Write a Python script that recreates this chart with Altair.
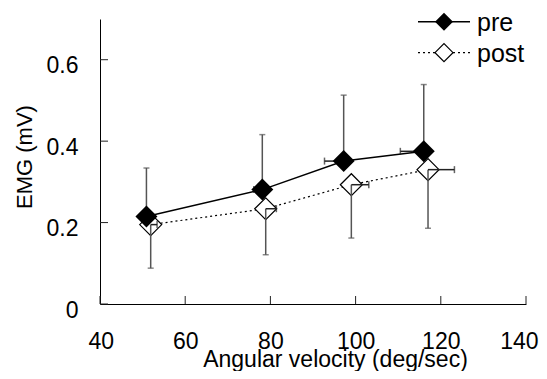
import altair as alt
import pandas as pd

# ---- data ----
series = ["pre", "post"]
velocity_pre = [50.9, 78.1, 97.2, 116.0]
emg_pre = [0.215, 0.281, 0.351, 0.375]
emg_pre_sd = [0.119, 0.135, 0.162, 0.164]      # drawn upward
vel_pre_sd = [1.5, 2.0, 4.5, 5.5]               # drawn leftward

velocity_post = [51.9, 78.9, 99.0, 117.0]
emg_post = [0.195, 0.234, 0.293, 0.330]
emg_post_sd = [0.107, 0.113, 0.131, 0.144]     # drawn downward
vel_post_sd = [1.5, 2.5, 4.1, 6.2]              # drawn rightward

x_ticks = [40, 60, 80, 100, 120, 140]
y_ticks = [0, 0.2, 0.4, 0.6]
x_title = "Angular velocity (deg/sec)"
y_title = "EMG (mV)"

pre = pd.DataFrame({
    "v": velocity_pre, "emg": emg_pre,
    "emg_end": [m + s for m, s in zip(emg_pre, emg_pre_sd)],
    "v_end": [v - s for v, s in zip(velocity_pre, vel_pre_sd)],
})
post = pd.DataFrame({
    "v": velocity_post, "emg": emg_post,
    "emg_end": [m - s for m, s in zip(emg_post, emg_post_sd)],
    "v_end": [v + s for v, s in zip(velocity_post, vel_post_sd)],
})

W, H = 426, 285
FONT = "Liberation Sans, Arial, sans-serif"

xscale = alt.Scale(domain=[40, 140], nice=False, zero=False)
yscale = alt.Scale(domain=[0, 0.7], nice=False)

x_axis = alt.Axis(values=x_ticks, labelPadding=44, labelBaseline="alphabetic",
                  labelFlush=True, labelFlushOffset=12, labelFontSize=23,
                  titleX=235, titleY=62, titleBaseline="alphabetic", titleAlign="center",
                  titleFontSize=23, titleColor="black", titleFont=FONT)
y_axis = alt.Axis(values=y_ticks, labelPadding=22, labelBaseline="alphabetic", labelOffset=13,
                  labelFontSize=23, labelFlush=False,
                  labelExpr="datum.value == 0 ? '0' : format(datum.value, '.1f')")

Xn = lambda f: alt.X(f, scale=xscale, title=x_title, axis=x_axis)
Yn = lambda f: alt.Y(f, scale=yscale, title=None, axis=y_axis)

base_pre = alt.Chart(pre)
base_post = alt.Chart(post)

# inward tick marks
xt = alt.Chart(pd.DataFrame({"v": x_ticks})).mark_rule(color="#222", strokeWidth=1).encode(
    x=Xn("v:Q"), y=alt.value(H), y2=alt.value(H - 8))
yt = alt.Chart(pd.DataFrame({"emg": y_ticks})).mark_rule(color="#222", strokeWidth=1).encode(
    y=Yn("emg:Q"), x=alt.value(0), x2=alt.value(8))

def series_layers(base, filled, vcolor="#555", hcolor="#222"):
    pts = (base.mark_point(shape="diamond", size=484, filled=True, color="black", opacity=1)
           if filled else
           base.mark_point(shape="diamond", size=484, fill="white", stroke="black",
                           strokeWidth=1.2, opacity=1, fillOpacity=1))
    vbar = base.mark_rule(color=vcolor, strokeWidth=1.5).encode(x=Xn("v:Q"), y=Yn("emg:Q"), y2="emg_end:Q")
    vcap = base.mark_tick(orient="horizontal", size=6, thickness=1.5, color=vcolor).encode(
        x=Xn("v:Q"), y=Yn("emg_end:Q"))
    hbar = base.mark_rule(color=hcolor, strokeWidth=1.5).encode(x=Xn("v:Q"), x2="v_end:Q", y=Yn("emg:Q"))
    hcap = base.mark_tick(orient="vertical", size=7, thickness=1.5, color=hcolor).encode(
        x=Xn("v_end:Q"), y=Yn("emg:Q"))
    return pts.encode(x=Xn("v:Q"), y=Yn("emg:Q")), [vbar, vcap, hbar, hcap]

post_line = base_post.mark_line(color="black", strokeWidth=1.2, strokeDash=[2, 3]).encode(
    x=Xn("v:Q"), y=Yn("emg:Q"))
post_pts, post_err = series_layers(base_post, filled=False)
pre_line = base_pre.mark_line(color="black", strokeWidth=1.5).encode(x=Xn("v:Q"), y=Yn("emg:Q"))
pre_pts, pre_err = series_layers(base_pre, filled=True)

# y-axis title as rotated text
ytitle = alt.Chart(alt.Data(values=[{"t": y_title}])).mark_text(
    angle=270, align="center", baseline="alphabetic", fontSize=22, font=FONT, color="black"
).encode(x=alt.value(-68), y=alt.value(138), text="t:N")

# legend (manual)
legend_layers = []
leg_rows = [2.7, 33.7]
leg_text = [11.7, 42.7]
for i, lab in enumerate(series):
    d = alt.Data(values=[{"label": lab}])
    dash = [1, 0] if lab == "pre" else [2, 3]
    legend_layers.append(alt.Chart(d).mark_rule(color="black", strokeWidth=1.5 if lab == "pre" else 1.2,
                                                strokeDash=dash).encode(
        x=alt.value(318), x2=alt.value(370), y=alt.value(leg_rows[i])))
    if lab == "pre":
        legend_layers.append(alt.Chart(d).mark_point(shape="diamond", size=324, filled=True,
                                                     color="black", opacity=1).encode(
            x=alt.value(344), y=alt.value(leg_rows[i])))
    else:
        legend_layers.append(alt.Chart(d).mark_point(shape="diamond", size=324, fill="white",
                                                     stroke="black", strokeWidth=1.2, opacity=1,
                                                     fillOpacity=1).encode(
            x=alt.value(344), y=alt.value(leg_rows[i])))
    legend_layers.append(alt.Chart(d).mark_text(align="left", baseline="alphabetic", fontSize=25,
                                                font=FONT, color="black").encode(
        x=alt.value(377), y=alt.value(leg_text[i]), text="label:N"))

chart = alt.layer(
    xt, yt,
    post_line, post_pts, *post_err,
    pre_line, *pre_err, pre_pts,
    ytitle,
    *legend_layers,
).properties(
    width=W, height=H,
    autosize=alt.AutoSizeParams(type="none"),
    padding={"left": 92, "top": 11, "right": 13, "bottom": 67},
    background="white",
).configure_view(stroke=None).configure_axis(
    grid=False, ticks=False, tickSize=0, domainColor="black", domainWidth=1,
    labelFont=FONT, labelColor="black",
    titleFont=FONT, titleFontWeight="normal", titleColor="black",
)

chart.save("out.html", embed_options={"renderer": "svg", "actions": False})
